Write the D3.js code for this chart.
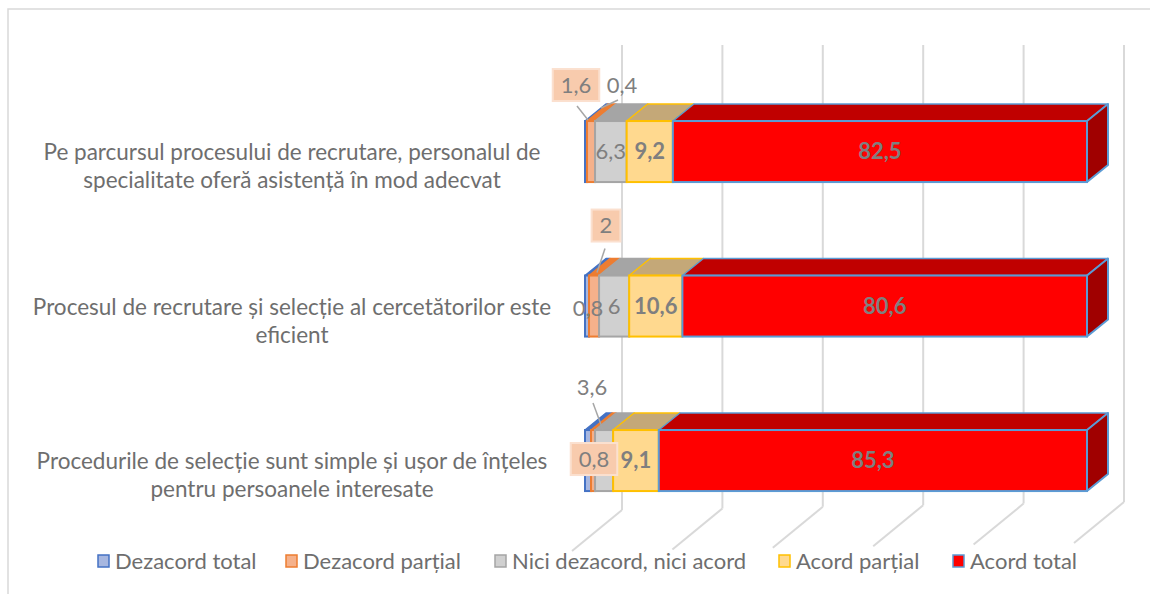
<!DOCTYPE html>
<html>
<head>
<meta charset="utf-8">
<style>
  body { margin: 0; background: #ffffff; }
  text { font-family: Lato, "Open Sans", sans-serif; }
</style>
</head>
<body>
<div id="chart"></div>

<script src="https://d3js.org/d3.v7.min.js"></script>
<script>
// data (percent)
const categories = [
    ["Pe parcursul procesului de recrutare, personalul de", "specialitate oferă asistență în mod adecvat"],
    ["Procesul de recrutare și selecție al cercetătorilor este", "eficient"],
    ["Procedurile de selecție sunt simple și ușor de înțeles", "pentru persoanele interesate"]
];
const seriesNames = ["Dezacord total", "Dezacord parțial", "Nici dezacord, nici acord", "Acord parțial", "Acord total"];
const dezacordTotal   = [0.4, 0.8, 1.2];
const dezacordPartial = [1.6, 2, 0.8];
const niciNici        = [6.3, 6, 3.6];
const acordPartial    = [9.2, 10.6, 9.1];
const acordTotal      = [82.5, 80.6, 85.3];
const gridTicks = [0, 20, 40, 60, 80, 100];

const allSeries = [dezacordTotal, dezacordPartial, niciNici, acordPartial, acordTotal];

// styles
const frontFill = ["#a7b7e0", "#f5b18b", "#d0d0d0", "#ffd98f", "#ff0000"];
const edge      = ["#4472c4", "#ed7d31", "#a5a5a5", "#ffc000", "#5b9bd5"];
const topFill   = ["#4472c4", "#ed7d31", "#a5a5a5", "#c4a878", "#c00000"];
const sideFill  = "#a00000";
const boldLabel = [false, false, false, true, true];
const labelColor = "#7f7f7f";
const legendTextX = [115, 303, 512, 796, 970];

// where Excel put the small labels (offset from the bar's front top-left corner)
const smallLabels = {
    "0-1": {box: true,  dx: -9, dy: -36, line: [[-8, -15], [3, -1]]},
    "0-0": {box: false, dx: 37, dy: -36, line: [[33, -21], [16, -13]]},
    "1-1": {box: true,  dx: 21, dy: -50, line: [[20, -27], [12, -3]]},
    "1-0": {box: false, dx: 3,  dy: 33,  line: null},
    "2-2": {box: false, dx: 7,  dy: -43, line: [[8, -27], [18, 0]]},
    "2-1": {box: true,  dx: 9,  dy: 29,  line: null}
};

const W = 1150, H = 594;
const svg = d3.select("#chart").append("svg")
    .attr("width", W)
    .attr("height", H);

// outer frame
svg.append("rect")
    .attr("x", 8).attr("y", 9)
    .attr("width", 1200).attr("height", 700)
    .attr("fill", "#ffffff")
    .attr("stroke", "#d9d9d9")
    .attr("stroke-width", 1.5);

let x = d3.scaleLinear().domain([0, 100]).range([585, 1087]);
let y = d3.scaleBand()
    .domain(d3.range(categories.length))
    .range([74.3, 537.8])
    .paddingInner(0.605)
    .paddingOuter(0.3025);

const barDepth = {dx: 21, dy: -17};
const wallDepth = {dx: 37, dy: -30};

// back wall gridlines + floor (wall bottom drifts up a little to the right)
let grid = svg.append("g");
gridTicks.forEach(function (t) {
    let xb = x(t) + wallDepth.dx;
    let yb = 510 - 8 * t / 100;
    grid.append("line")
        .attr("x1", xb).attr("x2", xb)
        .attr("y1", 45).attr("y2", yb)
        .attr("stroke", "#d9d9d9").attr("stroke-width", 2);
    grid.append("line")
        .attr("x1", xb).attr("y1", yb)
        .attr("x2", xb - 50).attr("y2", yb + 41)
        .attr("stroke", "#d9d9d9").attr("stroke-width", 2);
});

// stacked data
let rows = categories.map(function (c, i) {
    let r = {};
    allSeries.forEach(function (s, k) { r[k] = s[i]; });
    return r;
});
let stacked = d3.stack().keys(d3.range(allSeries.length))(rows);

let bars = svg.append("g");
categories.forEach(function (c, i) {
    let y0 = y(i), h = y.bandwidth();
    stacked.forEach(function (layer, k) {
        let a = x(layer[i][0]), b = x(layer[i][1]);
        bars.append("polygon")
            .attr("points", [[a, y0], [b, y0], [b + barDepth.dx, y0 + barDepth.dy], [a + barDepth.dx, y0 + barDepth.dy]].join(" "))
            .attr("fill", topFill[k])
            .attr("stroke", edge[k]).attr("stroke-width", 1.5)
            .attr("stroke-linejoin", "round");
        bars.append("rect")
            .attr("x", a).attr("y", y0)
            .attr("width", b - a).attr("height", h)
            .attr("fill", frontFill[k])
            .attr("stroke", edge[k]).attr("stroke-width", 2);
        if (k === allSeries.length - 1) {
            bars.append("polygon")
                .attr("points", [[b, y0], [b + barDepth.dx, y0 + barDepth.dy], [b + barDepth.dx, y0 + h + barDepth.dy], [b, y0 + h]].join(" "))
                .attr("fill", sideFill)
                .attr("stroke", edge[k]).attr("stroke-width", 2)
                .attr("stroke-linejoin", "round");
        }
    });
});

// data labels
let labels = svg.append("g");
categories.forEach(function (c, i) {
    let y0 = y(i), h = y.bandwidth(), ox = x(0);
    stacked.forEach(function (layer, k) {
        let v = allSeries[k][i];
        let txt = String(v).replace(".", ",");
        let spec = smallLabels[i + "-" + k];
        if (spec) {
            if (spec.line) {
                labels.append("line")
                    .attr("x1", ox + spec.line[0][0]).attr("y1", y0 + spec.line[0][1])
                    .attr("x2", ox + spec.line[1][0]).attr("y2", y0 + spec.line[1][1])
                    .attr("stroke", "#a6a6a6").attr("stroke-width", 1.5);
            }
            let cx = ox + spec.dx, cy = y0 + spec.dy;
            let t = labels.append("text")
                .attr("x", cx).attr("y", cy)
                .attr("dy", "0.35em")
                .attr("text-anchor", "middle")
                .attr("font-size", 22)
                .attr("fill", labelColor)
                .text(txt);
            if (spec.box) {
                let w = t.node().getComputedTextLength() + 16;
                labels.insert("rect", function () { return t.node(); })
                    .attr("x", cx - w / 2).attr("y", cy - 16)
                    .attr("width", w).attr("height", 32)
                    .attr("fill", "#f8cbad")
                    .attr("stroke", "#fbe0cf").attr("stroke-width", 2);
            }
        } else if (k >= 2) {
            labels.append("text")
                .attr("x", (x(layer[i][0]) + x(layer[i][1])) / 2)
                .attr("y", y0 + h / 2)
                .attr("dy", "0.35em")
                .attr("text-anchor", "middle")
                .attr("font-size", 22)
                .attr("font-weight", boldLabel[k] ? "bold" : "normal")
                .attr("fill", labelColor)
                .text(txt);
        }
    });
});

// category labels
let cats = svg.append("g");
categories.forEach(function (lines, i) {
    let cy = y(i) + y.bandwidth() / 2 + 1;
    let t = cats.append("text")
        .attr("x", 292)
        .attr("y", cy)
        .attr("text-anchor", "middle")
        .attr("font-size", 22.5)
        .attr("fill", "#6e6e6e");
    lines.forEach(function (ln, j) {
        t.append("tspan")
            .attr("x", 292)
            .attr("y", cy + j * 28)
            .attr("dy", "0.35em")
            .text(ln);
    });
});

// legend
let legend = svg.append("g");
seriesNames.forEach(function (name, k) {
    let tx = legendTextX[k];
    legend.append("rect")
        .attr("x", tx - 17).attr("y", 555)
        .attr("width", 11).attr("height", 12)
        .attr("fill", frontFill[k])
        .attr("stroke", edge[k]).attr("stroke-width", 1.5);
    legend.append("text")
        .attr("x", tx).attr("y", 561)
        .attr("dy", "0.35em")
        .attr("font-size", 22)
        .attr("fill", "#6e6e6e")
        .text(name);
});
</script>
</body>
</html>
